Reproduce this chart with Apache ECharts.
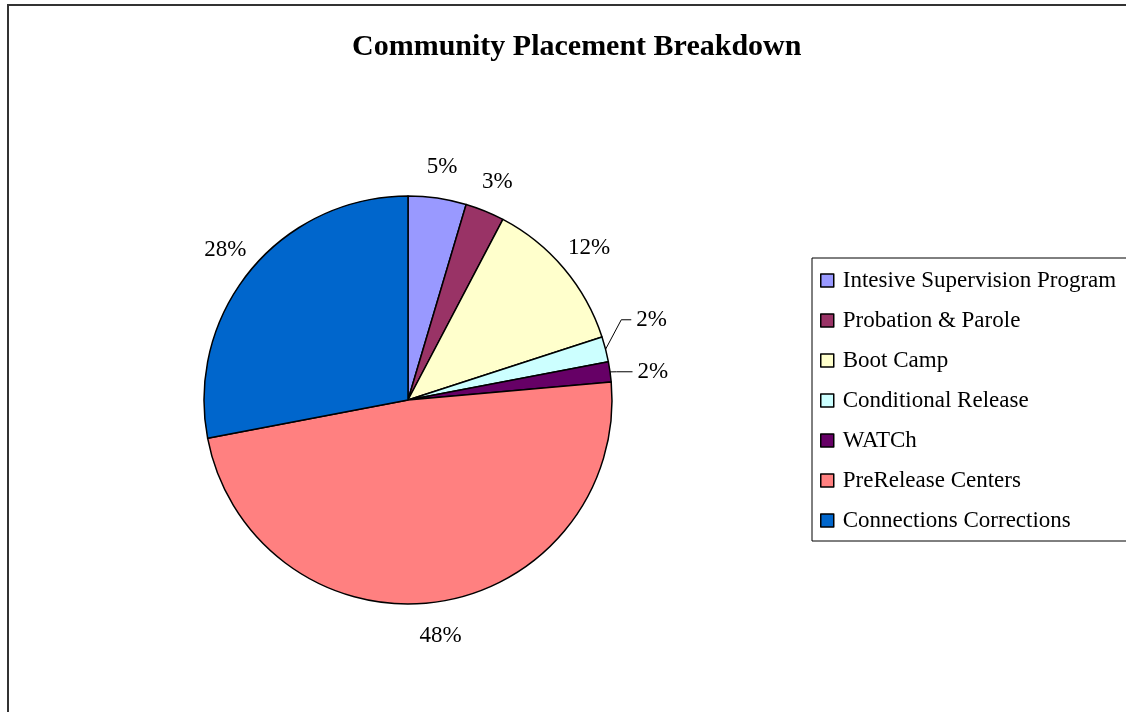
<!DOCTYPE html>
<html>
<head>
<meta charset="utf-8">
<script src="https://cdn.jsdelivr.net/npm/echarts@6/dist/echarts.min.js"></script>
<style>
  html, body { margin: 0; padding: 0; background: #fff; }
  #pieChart { width: 1126px; height: 712px; }
</style>
</head>
<body>
<div id="pieChart"></div>
<script>
// 类别与数值（按图中扇区角度估读）
const categories = [
  'Intesive Supervision Program',
  'Probation & Parole',
  'Boot Camp',
  'Conditional Release',
  'WATCh',
  'PreRelease Centers',
  'Connections Corrections',
];
const values = [4.6, 3.1, 12.3, 2.0, 1.6, 48.4, 28.0];
const colors = ['#9999FF', '#993366', '#FFFFCC', '#CCFFFF', '#660066', '#FF8080', '#0066CC'];
// 小扇区用引导线标注
const smallSlices = [3, 4];

const font = '"Liberation Serif", "Times New Roman", serif';
const pctFormatter = (p) => Math.round(p.percent) + '%';

const mainData = categories.map((name, i) => {
  const small = smallSlices.includes(i);
  return {
    name: name,
    value: values[i],
    itemStyle: { color: colors[i] },
    label: { show: small },
    labelLine: { show: small },
  };
});

// 外圈透明环，只用来放置百分比标签
const labelData = categories.map((name, i) => ({
  name: 'lbl' + i,
  value: values[i],
  label: { show: !smallSlices.includes(i) },
}));

const option = {
  animation: false,
  graphic: [
    {
      type: 'rect',
      shape: { x: 8, y: 5, width: 1200, height: 800 },
      style: { fill: 'none', stroke: '#333', lineWidth: 2 },
      silent: true,
    },
  ],
  title: {
    text: 'Community Placement Breakdown',
    left: 347,
    top: 27,
    textStyle: {
      fontFamily: font,
      fontWeight: 'bold',
      fontSize: 30,
      color: '#000',
    },
  },
  legend: {
    orient: 'vertical',
    left: 812,
    top: 258,
    data: categories,
    icon: 'rect',
    itemWidth: 13,
    itemHeight: 13,
    itemGap: 17,
    padding: [11, 60, 9, 8],
    borderColor: '#000',
    borderWidth: 1,
    selectedMode: false,
    itemStyle: { borderColor: '#000', borderWidth: 1.5 },
    textStyle: {
      fontFamily: font,
      fontSize: 23,
      color: '#000',
      padding: [0, 0, 0, 4],
    },
  },
  series: [
    {
      name: 'placement',
      type: 'pie',
      center: [408, 400],
      radius: 204,
      startAngle: 90,
      clockwise: true,
      silent: true,
      data: mainData,
      itemStyle: { borderColor: '#000', borderWidth: 1.5 },
      label: {
        position: 'outside',
        formatter: pctFormatter,
        fontFamily: font,
        fontSize: 23,
        color: '#000',
      },
      labelLine: {
        length: 10,
        length2: 16,
        smooth: false,
        lineStyle: { color: '#000', width: 1 },
      },
      // Conditional Release 的标签在原图里往上挪了一些，引导线跟着折上去
      labelLayout: (params) => {
        const pts = params.labelLinePoints;
        if (params.dataIndex === 3 && pts) {
          const up = 27;
          return {
            dy: -up,
            labelLinePoints: [
              pts[0],
              [pts[1][0] + 6, pts[1][1] - up],
              [pts[2][0], pts[2][1] - up],
            ],
          };
        }
      },
    },
    {
      name: 'labels',
      type: 'pie',
      center: [408, 401],
      radius: [214, 254],
      startAngle: 90,
      clockwise: true,
      silent: true,
      data: labelData,
      itemStyle: { color: 'transparent', borderWidth: 0 },
      label: {
        position: 'inside',
        formatter: pctFormatter,
        fontFamily: font,
        fontSize: 23,
        color: '#000',
      },
      labelLine: { show: false },
    },
  ],
};

const chart = echarts.init(document.getElementById('pieChart'));
chart.setOption(option);
</script>
</body>
</html>
